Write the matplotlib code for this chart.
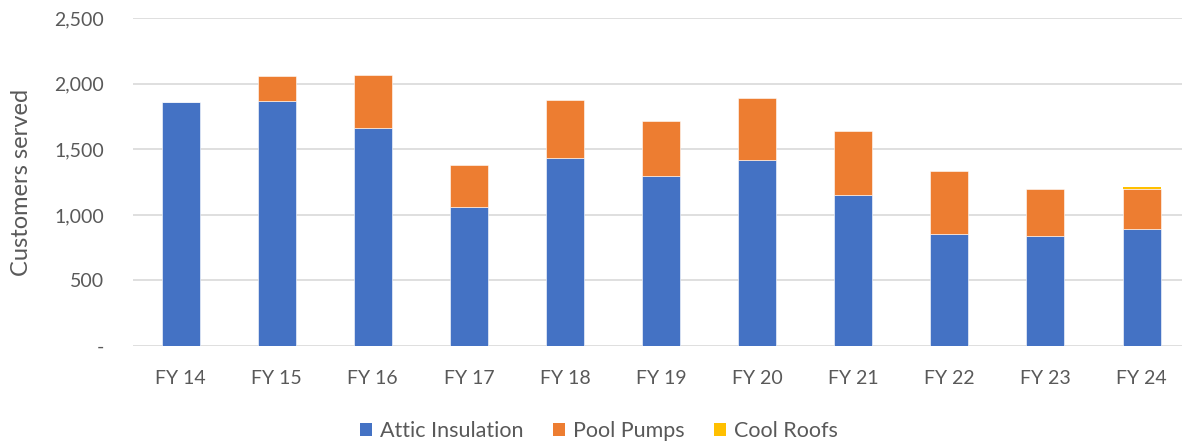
import matplotlib
matplotlib.use("Agg")
import matplotlib.pyplot as plt
from matplotlib.ticker import FuncFormatter
from matplotlib.patches import Patch
import numpy as np

plt.rcParams['font.family'] = ['Lato', 'DejaVu Sans']

years = ["FY 14", "FY 15", "FY 16", "FY 17", "FY 18", "FY 19",
         "FY 20", "FY 21", "FY 22", "FY 23", "FY 24"]
attic_insulation = [1865, 1872, 1666, 1063, 1432, 1295, 1417, 1155, 852, 842, 890]
pool_pumps = [0, 188, 402, 318, 445, 422, 473, 483, 481, 353, 305]
cool_roofs = [0, 0, 0, 0, 0, 0, 0, 0, 0, 0, 18]

BLUE = "#4472C4"
ORANGE = "#ED7D31"
YELLOW = "#FFC000"
TEXT = "#595959"
GRID = "#D9D9D9"

W, H = 1182, 444
fig = plt.figure(figsize=(W / 100, H / 100), dpi=100)
left, right, top, bottom = 132.5, 1182, 18.3, 346
ax = fig.add_axes([left / W, 1 - bottom / H, (right - left) / W, (bottom - top) / H])

x = np.arange(len(years))
width = 0.395
a = np.array(attic_insulation)
p = np.array(pool_pumps)
c = np.array(cool_roofs)
ax.bar(x, a, width, color=BLUE, edgecolor="white", linewidth=0.4, zorder=3, label="Attic Insulation")
ax.bar(x, p, width, bottom=a, color=ORANGE, edgecolor="white", linewidth=0.4, zorder=3, label="Pool Pumps")
ax.bar(x, c, width, bottom=a + p, color=YELLOW, edgecolor="none", linewidth=0, zorder=3, label="Cool Roofs")

step = 96.1
ax.set_xlim(-0.5, -0.5 + (right - left) / step)
ax.set_ylim(0, 2500)
ax.set_yticks(range(0, 2501, 500))
ax.yaxis.set_major_formatter(FuncFormatter(lambda v, _: "-" if v == 0 else f"{int(v):,}"))
ax.set_xticks(x)
ax.set_xticklabels(years)

ax.grid(axis="y", color=GRID, linewidth=1.2, zorder=0)
for s in ax.spines.values():
    s.set_visible(False)
ax.tick_params(axis="both", length=0, colors=TEXT, labelsize=14)
ax.tick_params(axis="y", pad=20.5)
ax.tick_params(axis="x", pad=17)

fig.text(22 / W, 1 - 182 / H, "Customers served", rotation=90, ha="center", va="center",
         color=TEXT, fontsize=17)

handles = [Patch(facecolor=BLUE), Patch(facecolor=ORANGE), Patch(facecolor=YELLOW)]
leg = fig.legend(handles, ["Attic Insulation", "Pool Pumps", "Cool Roofs"],
                 loc="center", bbox_to_anchor=(599 / W, 1 - 431 / H), ncol=3, frameon=False,
                 fontsize=15.5, handlelength=0.55, handleheight=0.55, handletextpad=0.35,
                 columnspacing=1.4)
for t in leg.get_texts():
    t.set_color(TEXT)

fig.savefig("out.png", dpi=100)
